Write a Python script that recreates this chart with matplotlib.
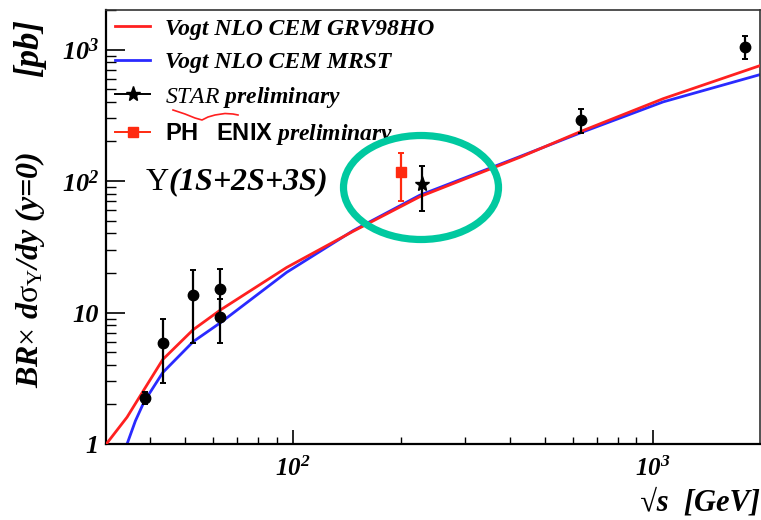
import matplotlib
matplotlib.use("Agg")
import matplotlib.pyplot as plt
from matplotlib.lines import Line2D
from matplotlib.patches import Ellipse
from matplotlib.ticker import FixedLocator, NullFormatter, LogLocator

plt.rcParams["mathtext.fontset"] = "custom"
plt.rcParams["mathtext.rm"] = "Liberation Serif"
plt.rcParams["mathtext.it"] = "Liberation Serif:italic:bold"
plt.rcParams["mathtext.bf"] = "Liberation Serif:italic:bold"
plt.rcParams["mathtext.sf"] = "Liberation Sans:bold"
plt.rcParams["mathtext.cal"] = "Liberation Serif:italic"

SERIF_BI = dict(family="Liberation Serif", weight="bold", style="italic")

# Vogt NLO CEM predictions
energy_grv = [30.3, 34.6, 38.6, 43.5, 52.8, 63, 96, 147, 225, 428, 627, 1067, 1983]
xsec_grv = [1.0, 1.6, 2.6, 4.4, 7.4, 10.5, 22, 41.5, 76, 152, 237, 423, 755]
energy_mrst = [34.6, 36.5, 38.6, 43.5, 52.8, 63, 96, 147, 225, 428, 627, 1067, 1983]
xsec_mrst = [1.0, 1.5, 2.1, 3.5, 6.0, 8.4, 20.2, 42, 78, 154, 232, 400, 645]

# world data
energy_world = [38.8, 43.5, 52.8, 62.5, 62.5, 630, 1800]
xsec_world = [2.25, 5.9, 13.5, 15.2, 9.3, 292, 1055]
err_world = [0.25, 3.0, 7.6, 6.1, 3.4, 60, 205]

# RHIC preliminary
energy_star = [228]
xsec_star = [95]
err_star = [36]
energy_phenix = [200]
xsec_phenix = [117]
err_phenix = [47]

W, H = 761, 520
fig = plt.figure(figsize=(W / 100, H / 100), dpi=100)
ax = fig.add_axes([106 / W, 1 - 444 / H, (760 - 106) / W, (444 - 10) / H])
ax.set_xscale("log")
ax.set_yscale("log")
ax.set_xlim(30.24, 1983)
ax.set_ylim(1, 2000)

ax.plot(energy_grv, xsec_grv, color="#ff2020", lw=2.0, zorder=3)
ax.plot(energy_mrst, xsec_mrst, color="#2a2aff", lw=2.0, zorder=2)

ax.errorbar(energy_world, xsec_world, yerr=err_world, fmt="o", color="black",
            ms=7.5, elinewidth=1.6, capsize=2, capthick=1.4, zorder=4)
ax.errorbar(energy_star, xsec_star, yerr=err_star, fmt="*", color="black",
            ms=11, elinewidth=1.6, capsize=2.5, capthick=1.4, zorder=4)
ax.errorbar(energy_phenix, xsec_phenix, yerr=err_phenix, fmt="s", color="#ff2a10",
            ms=7, elinewidth=1.6, capsize=2.5, capthick=1.4, zorder=4)

# axes frame
for side in ("left", "bottom"):
    ax.spines[side].set_linewidth(1.6)
for side in ("top", "right"):
    ax.spines[side].set_linewidth(1.2)
    ax.spines[side].set_color("#333333")

ax.yaxis.set_major_locator(FixedLocator([1, 10, 100, 1000]))
ax.set_yticklabels(["1", "10", r"$\mathbf{10^{2}}$", r"$\mathbf{10^{3}}$"], **SERIF_BI)
ax.yaxis.set_minor_locator(LogLocator(base=10, subs=range(2, 10)))
ax.yaxis.set_minor_formatter(NullFormatter())
ax.xaxis.set_major_locator(FixedLocator([100, 1000]))
ax.set_xticklabels([r"$\mathbf{10^{2}}$", r"$\mathbf{10^{3}}$"], **SERIF_BI)
ax.xaxis.set_minor_locator(LogLocator(base=10, subs=range(2, 10)))
ax.xaxis.set_minor_formatter(NullFormatter())

ax.tick_params(axis="y", which="major", direction="in", length=14, width=1.2,
               labelsize=19, pad=5, right=False)
ax.tick_params(axis="y", which="minor", direction="in", length=7.5, width=1.0, right=False)
ax.tick_params(axis="x", which="major", direction="in", length=10, width=1.2,
               labelsize=18, pad=9, top=False)
ax.tick_params(axis="x", which="minor", direction="in", length=5, width=1.0, top=False)

# axis titles
fig.text(30 / W, 1 - 270 / H, r"BR$\mathrm{\times}$ d$\mathrm{\sigma}_{\Upsilon}$/dy (y=0)",
         rotation=90, ha="center", va="center", fontsize=23, **SERIF_BI)
fig.text(30 / W, 1 - 48 / H, "[pb]",
         rotation=90, ha="center", va="center", fontsize=25, **SERIF_BI)
fig.text(760 / W, 1 - 503 / H, "√s  [GeV]", ha="right", va="center", fontsize=22, **SERIF_BI)

fig.text(145 / W, 1 - 182 / H, r"$\mathrm{\Upsilon}$(1S+2S+3S)",
         ha="left", va="center", fontsize=23, **SERIF_BI)

handles = [
    Line2D([], [], color="#ff2020", lw=2.0),
    Line2D([], [], color="#2a2aff", lw=2.0),
    Line2D([], [], color="black", lw=1.4, marker="*", ms=11),
    Line2D([], [], color="#ff2a10", lw=1.4, marker="s", ms=7),
]
labels = [
    "Vogt NLO CEM GRV98HO",
    "Vogt NLO CEM MRST",
    r"$\mathcal{STAR}$ preliminary",
    r"$\mathsf{PH\ \ \ ENIX}$ preliminary",
]
leg = ax.legend(handles, labels, loc="upper left", frameon=False,
                bbox_to_anchor=(9 / 654, 1 - 8 / 434),
                prop=dict(size=17, **SERIF_BI), handlelength=1.5,
                labelspacing=0.5, borderaxespad=0.0, borderpad=0.0,
                handletextpad=0.62)

# hand-drawn marks
sx = [173, 185, 195, 202, 208, 215, 225, 233, 238]
sy = [110, 114, 118, 120, 117, 115, 113.5, 114, 115]
fig.add_artist(Line2D([x / W for x in sx], [1 - y / H for y in sy],
                      transform=fig.transFigure, color="#ff2020", lw=1.2))
fig.add_artist(Ellipse((421 / W, 1 - 187.5 / H), 155 / W, 104 / H,
                       transform=fig.transFigure, fill=False,
                       edgecolor="#00c9a0", lw=5.2, zorder=10))

fig.savefig("out.png", dpi=100)
